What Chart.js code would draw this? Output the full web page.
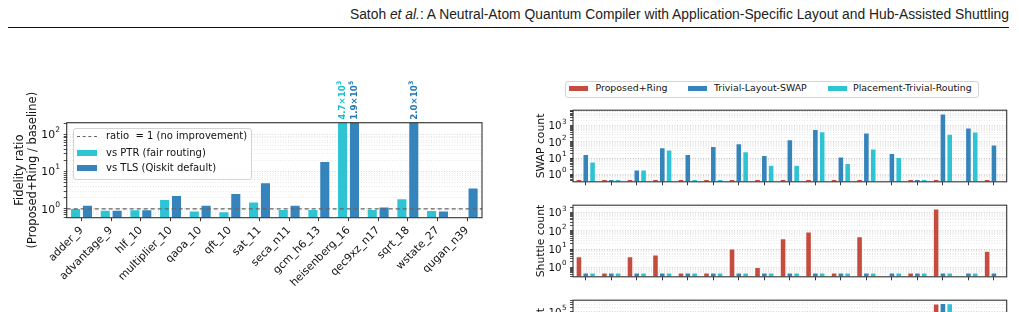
<!DOCTYPE html>
<html><head><meta charset="utf-8">
<script src="https://cdn.jsdelivr.net/npm/chart.js@4.4.1/dist/chart.umd.min.js"></script>
<style>
html,body{margin:0;padding:0;width:1019px;height:312px;overflow:hidden;background:#fff;font-family:'DejaVu Sans',sans-serif;color:#111;}
canvas{position:absolute;}
.abs{position:absolute;white-space:nowrap;}
.lgtxt{position:absolute;white-space:nowrap;line-height:12px;transform:translateY(-6px);}
</style></head><body>

<canvas id="fid" width="490" height="242" style="left:0;top:70px"></canvas>
<canvas id="swap" width="499" height="92" style="left:520px;top:100px"></canvas>
<canvas id="shut" width="499" height="92" style="left:520px;top:195px"></canvas>
<canvas id="gate" width="499" height="110" style="left:520px;top:290px"></canvas>

<div id="hdr" class="abs" style="right:10px;top:7px;font-family:'Liberation Sans',Arial,sans-serif;font-size:14px;line-height:14px;color:#222;transform-origin:right top;">Satoh <i>et al.</i>: A Neutral-Atom Quantum Compiler with Application-Specific Layout and Hub-Assisted Shuttling</div>
<div class="abs" style="left:8px;top:27px;width:1001px;height:1px;background:#111"></div>

<!-- left legend -->
<div class="abs" style="left:73px;top:128px;width:177px;height:50px;border:1px solid #d4d4d4;border-radius:3px;background:rgba(255,255,255,0.85);"></div>
<div class="abs" style="left:77px;top:135.5px;width:20px;height:0;border-top:1.2px dashed #666;"></div>
<div class="lgtxt" style="left:106px;top:136px;font-size:10px">ratio&nbsp; = 1 (no improvement)</div>
<div class="abs" id="lgPTR" style="left:77px;top:149.7px;width:20px;height:6px;"></div>
<div class="lgtxt" style="left:106px;top:152.7px;font-size:10px">vs PTR (fair routing)</div>
<div class="abs" id="lgTLS" style="left:77px;top:165.3px;width:20px;height:6px;"></div>
<div class="lgtxt" style="left:106px;top:168.3px;font-size:10px">vs TLS (Qiskit default)</div>

<!-- right legend -->
<div class="abs" style="left:565px;top:80.5px;width:412px;height:15px;border:1px solid #d4d4d4;border-radius:3px;background:#fff;"></div>
<div class="abs" id="lgR0" style="left:569px;top:85.5px;width:19px;height:5.5px;"></div>
<div class="lgtxt" id="lgT0" style="left:595.5px;top:88.3px;font-size:9.4px"></div>
<div class="abs" id="lgR1" style="left:688px;top:85.5px;width:19px;height:5.5px;"></div>
<div class="lgtxt" id="lgT1" style="left:714px;top:88.3px;font-size:9.4px"></div>
<div class="abs" id="lgR2" style="left:828px;top:85.5px;width:19px;height:5.5px;"></div>
<div class="lgtxt" id="lgT2" style="left:853px;top:88.3px;font-size:9.4px"></div>

<script>
// ---------------- DATA ----------------
const fidCategories = ['adder_9','advantage_9','hlf_10','multiplier_10','qaoa_10','qft_10','sat_11','seca_n11','gcm_h6_13','heisenberg_16','qec9xz_n17','sqrt_18','wstate_27','qugan_n39'];
const ratioVsPTR = [1.05, 0.94, 0.97, 1.82, 0.90, 0.85, 1.57, 0.98, 0.98, 4700, 0.98, 1.89, 0.92, null];
const ratioVsTLS = [1.28, 0.94, 0.97, 2.33, 1.28, 2.63, 5.1, 1.28, 19, 190000, 1.15, 2000, 0.90, 3.7];
const fidYRange = [0.58, 205];
const fidSeriesNames = ['vs PTR (fair routing)', 'vs TLS (Qiskit default)'];

const circuits = ['c01','c02','c03','c04','c05','c06','c07','c08','c09','c10','c11','c12','c13','c14','c15','c16','c17'];
const seriesNames = ['Proposed+Ring','Trivial-Layout-SWAP','Placement-Trivial-Routing'];

const swapProposed = [0.5,0.5,0.5,0.5,0.5,0.5,0.5,0.5,0.5,0.5,0.5,0.5,null,0.5,0.5,null,0.5];
const swapTLS      = [17,0.5,1.9,45,17,54,80,15,140,590,12,360,20,0.5,5400,730,67];
const swapPTR      = [6,0.5,1.9,33,0.5,0.5,26,3.7,3.7,430,4.8,38,11.5,0.5,310,415,null];
const swapYRange = [0.35, 9000];

const shuttleProposed = [3.9,0.5,3.9,4.9,0.5,0.5,10.5,1.0,38,90,0.5,49,null,0.5,1650,null,7.7];
const shuttleTLS      = [0.5,0.5,0.5,0.5,0.5,0.5,0.5,0.5,0.5,0.5,0.5,0.5,0.5,0.5,0.5,0.5,0.5];
const shuttlePTR      = [0.5,0.5,0.5,0.5,0.5,0.5,0.5,0.5,0.5,0.5,0.5,0.5,0.5,0.5,0.5,0.5,null];
const shuttleYRange = [0.34, 2600];

const gateProposed = [900,700,1000,2500,800,900,1500,1200,3000,4000,1500,3500,null,1200,330000,null,6000];
const gateTLS      = [1000,700,1000,2700,900,1000,1700,1300,3500,5000,1600,4000,1800,1200,350000,8000,6500];
const gatePTR      = [950,700,1000,2600,850,950,1600,1250,3200,4500,1550,3800,1700,1200,340000,7500,null];
const gateYRange = [10, 550000];

// ---------------- STYLE ----------------
const COLORS = ['#c0392b', '#1f77b4', '#17becf'];
const C_PTR = '#17becf', C_TLS = '#1f77b4';
function rgba(hex, a){const n=parseInt(hex.slice(1),16);return `rgba(${n>>16},${(n>>8)&255},${n&255},${a})`;}

(function(){const h=document.getElementById('hdr');const w=h.getBoundingClientRect().width;h.style.transform='scaleX('+(659/w)+')';})();
document.getElementById('lgPTR').style.background=rgba(C_PTR,0.9);
document.getElementById('lgTLS').style.background=rgba(C_TLS,0.9);
for(let i=0;i<3;i++){document.getElementById('lgR'+i).style.background=rgba(COLORS[i],0.9);document.getElementById('lgT'+i).textContent=seriesNames[i];}

function isPow10(v){const e=Math.log10(v);return Math.abs(e-Math.round(e))<1e-6;}
function logTicks(scale){
  const t=[];
  for(let e=Math.floor(Math.log10(scale.min));e<=Math.ceil(Math.log10(scale.max));e++){
    for(let k=1;k<10;k++){const v=k*Math.pow(10,e);if(v>=scale.min*0.9999&&v<=scale.max*1.0001)t.push({value:v});}
  }
  scale.ticks=t;
}
function powLabelPlugin(fs){return {id:'powLabels',afterDraw(chart){
  const c=chart.ctx,s=chart.scales.y,a=chart.chartArea;
  c.save();c.fillStyle='#111';c.textBaseline='middle';
  s.ticks.forEach(t=>{
    if(!isPow10(t.value))return;
    const e=String(Math.round(Math.log10(t.value)));const y=s.getPixelForValue(t.value);
    c.font=(fs*0.7).toFixed(1)+'px "DejaVu Sans"';const we=c.measureText(e).width;
    const xr=a.left-6.5;
    c.textAlign='right';c.fillText(e,xr,y-fs*0.38);
    c.font=fs+'px "DejaVu Sans"';c.fillText('10',xr-we-0.3,y+1);
  });
  c.restore();
}};}
const framePlugin={id:'frame',afterDraw(chart){const a=chart.chartArea,c=chart.ctx;c.save();c.strokeStyle='#333';c.lineWidth=1.1;c.strokeRect(a.left,a.top,a.right-a.left,a.bottom-a.top);c.restore();}};

function yScale(range, widthPx, title, titlePad, fontSize){
  return {
    type:'logarithmic', min:range[0], max:range[1],
    afterBuildTicks: logTicks,
    afterFit: s=>{s.width=widthPx;},
    ticks:{autoSkip:false, padding:3, callback:()=>''},
    grid:{color:(ctx)=>ctx.tick&&isPow10(ctx.tick.value)?'rgba(0,0,0,0.22)':'rgba(0,0,0,0.12)', lineWidth:0.8, tickLength:3, tickColor:'#222', tickWidth:0.8},
    border:{display:false, dash:[1,1.6]},
    title:{display:true, text:title, color:'#111', font:{family:'DejaVu Sans',size:fontSize,lineHeight:1.15}, padding:{top:titlePad,bottom:0}}
  };
}

// ---------------- LEFT CHART ----------------
const clipLabelPlugin={id:'clipLabels',afterDraw(chart){
  const c=chart.ctx,a=chart.chartArea,ymax=chart.scales.y.max;
  chart.data.datasets.forEach((ds,di)=>{
    const meta=chart.getDatasetMeta(di);
    ds.data.forEach((v,i)=>{
      if(v==null||v<=ymax)return;
      const el=meta.data[i];const e=Math.floor(Math.log10(v));const m=(v/Math.pow(10,e)).toFixed(1);
      c.save();c.translate(el.x+0.5,a.top-3);c.rotate(-Math.PI/2);
      c.fillStyle=ds.labelColor;c.textBaseline='middle';c.textAlign='left';
      c.font='bold 8.6px "DejaVu Sans"';const main=m+'×10';c.fillText(main,0,0);
      const w=c.measureText(main).width;c.font='bold 6.2px "DejaVu Sans"';c.fillText(String(e),w+0.4,-3.2);
      c.restore();
    });
  });
}};
const ratioLinePlugin={id:'ratioLine',afterDatasetsDraw(chart){
  const c=chart.ctx,a=chart.chartArea,y=chart.scales.y.getPixelForValue(1);
  c.save();c.strokeStyle='#666';c.lineWidth=1.1;c.setLineDash([4,3]);c.beginPath();c.moveTo(a.left,y);c.lineTo(a.right,y);c.stroke();c.restore();
}};

new Chart(document.getElementById('fid'),{
  type:'bar',
  data:{labels:fidCategories,datasets:[
    {label:fidSeriesNames[0],data:ratioVsPTR,backgroundColor:rgba(C_PTR,0.9),borderColor:'rgba(255,255,255,0.5)',borderWidth:0.8,categoryPercentage:0.8,barPercentage:0.9,labelColor:C_PTR},
    {label:fidSeriesNames[1],data:ratioVsTLS,backgroundColor:rgba(C_TLS,0.9),borderColor:'rgba(255,255,255,0.5)',borderWidth:0.8,categoryPercentage:0.8,barPercentage:0.9,labelColor:C_TLS}
  ]},
  options:{
    responsive:false,animation:false,devicePixelRatio:1,
    layout:{padding:{top:52.7,right:8,left:0,bottom:0}},
    plugins:{legend:{display:false},tooltip:{enabled:false}},
    scales:{
      x:{afterFit:s=>{s.height=94.3;},
        ticks:{autoSkip:false,minRotation:45,maxRotation:45,color:'#111',font:{family:'DejaVu Sans',size:10.8},padding:3},
        grid:{offset:false,drawOnChartArea:false,tickLength:3.5,tickColor:'#222',tickWidth:0.9},border:{display:false}},
      y:yScale(fidYRange,66.7,['Fidelity ratio','(Proposed+Ring / baseline)'],13.3,11.5)
    }
  },
  plugins:[ratioLinePlugin,clipLabelPlugin,framePlugin,powLabelPlugin(10.8)]
});

// ---------------- RIGHT PANELS ----------------
function panel(id, series, range, title, padTop, plotH, canvasH){
  return new Chart(document.getElementById(id),{
    type:'bar',
    data:{labels:circuits,datasets:series.map((d,i)=>({label:seriesNames[i],data:d,backgroundColor:rgba(COLORS[i],0.9),borderColor:'rgba(255,255,255,0.5)',borderWidth:0.7,categoryPercentage:0.8,barPercentage:0.88}))},
    options:{
      responsive:false,animation:false,devicePixelRatio:1,
      layout:{padding:{top:padTop,right:12.3,left:0,bottom:0}},
      plugins:{legend:{display:false},tooltip:{enabled:false}},
      scales:{
        x:{afterFit:s=>{s.height=canvasH-padTop-plotH;},ticks:{display:false},
          grid:{offset:false,drawOnChartArea:false,tickLength:3.5,tickColor:'#222',tickWidth:0.9},border:{display:false}},
        y:yScale(range,53,title,14.7,10.8)
      }
    },
    plugins:[framePlugin,powLabelPlugin(10.3)]
  });
}
panel('swap',[swapProposed,swapTLS,swapPTR],swapYRange,'SWAP count',10,78,92);
panel('shut',[shuttleProposed,shuttleTLS,shuttlePTR],shuttleYRange,'Shuttle count',8.3,79,92);
panel('gate',[gateProposed,gateTLS,gatePTR],gateYRange,'Gate count',7.7,78,110);
</script>
</body></html>
